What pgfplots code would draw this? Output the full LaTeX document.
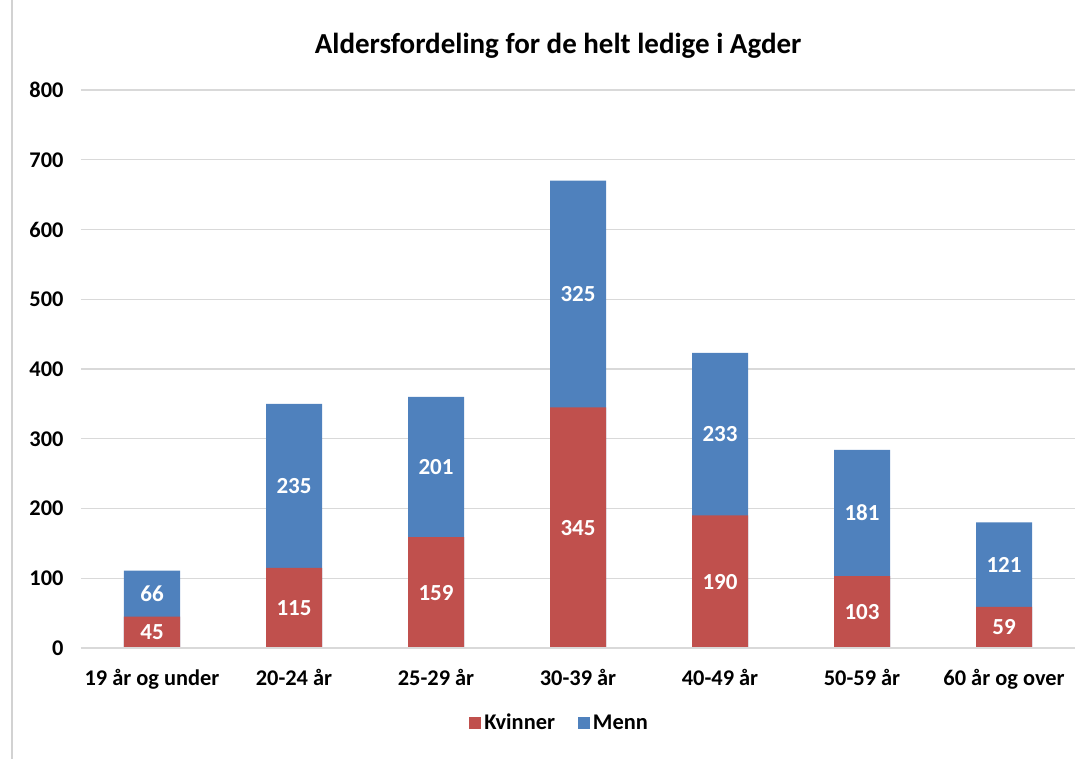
\documentclass[border=0pt]{standalone}
\usepackage{pgfplots}
\pgfplotsset{compat=1.18}
\usepackage{fontspec}
\setmainfont{Carlito}
\definecolor{kv}{HTML}{C0504D}
\definecolor{me}{HTML}{4F81BD}
\definecolor{gridc}{HTML}{D9D9D9}
\begin{document}
\begin{tikzpicture}[x=1pt,y=1pt]
\path[use as bounding box] (-81,-110) rectangle (1008,648);
\draw[gray!35, line width=1.2pt] (-69,-120) -- (-69,660);
\begin{axis}[
  at={(0,0)}, anchor=south west,
  scale only axis, width=994pt, height=558pt,
  xmin=-0.5, xmax=6.5, ymin=0, ymax=800,
  ytick={0,100,...,800},
  xtick={0,...,6},
  xticklabels={19 år og under,20-24 år,25-29 år,30-39 år,40-49 år,50-59 år,60 år og over},
  /pgf/number format/assume math mode=true,
  ticklabel style={font=\fontsize{22.4}{26}\selectfont\bfseries, text=black},
  xticklabel style={yshift=-18pt},
  yticklabel style={xshift=-14pt},
  major tick length=0pt,
  axis line style={draw=none},
  axis x line*=bottom,
  ymajorgrids, grid style={gridc, line width=1.2pt},
  title={Aldersfordeling for de helt ledige i Agder},
  title style={font=\fontsize{29}{34}\selectfont\bfseries, at={(0.48,1)}, anchor=center, yshift=38pt},
  ybar, bar width=56pt, bar shift=0pt,
  legend columns=2,
  legend style={draw=none, at={(0.482,-0.134)}, anchor=center, font=\fontsize{22.4}{26}\selectfont\bfseries,
    /tikz/every even column/.append style={column sep=20pt},
    /tikz/every node/.append style={inner xsep=3pt}},
  legend image code/.code={\fill[#1] (-4pt,-6pt) rectangle (8pt,6pt);},
]
\addlegendimage{fill=kv, draw=none}
\addlegendentry{Kvinner}
\addlegendimage{fill=me, draw=none}
\addlegendentry{Menn}
% totals (Kvinner + Menn), drawn first
\addplot[fill=me, draw=none, forget plot] coordinates {(0,111) (1,350) (2,360) (3,670) (4,423) (5,284) (6,180)};
\addplot[fill=kv, draw=none, forget plot] coordinates {(0,45) (1,115) (2,159) (3,345) (4,190) (5,103) (6,59)};
% labels
\addplot[draw=none, fill=none, forget plot, nodes near coords, point meta=explicit symbolic,
  every node near coord/.append style={anchor=center, text=white, font=\fontsize{23}{27}\selectfont\bfseries}]
  coordinates {(0,22.5)[45] (1,57.5)[115] (2,79.5)[159] (3,172.5)[345] (4,95)[190] (5,51.5)[103] (6,29.5)[59]
               (0,78)[66] (1,232.5)[235] (2,259.5)[201] (3,507.5)[325] (4,306.5)[233] (5,193.5)[181] (6,119.5)[121]};
\draw[gridc, line width=1.2pt] (axis cs:-0.5,0) -- (axis cs:6.5,0);
\end{axis}
\end{tikzpicture}
\end{document}
